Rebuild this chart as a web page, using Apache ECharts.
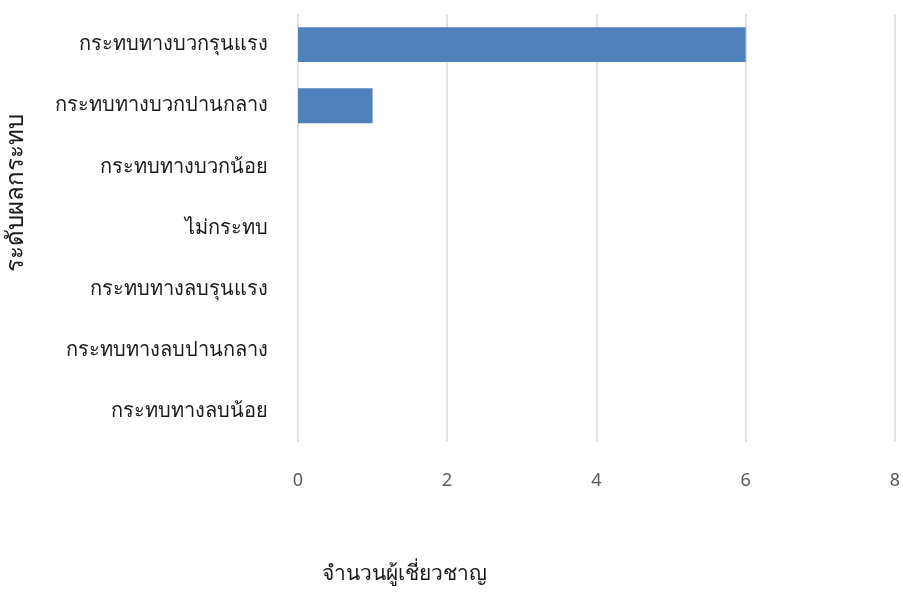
<!DOCTYPE html>
<html>
<head>
<meta charset="utf-8">
<script src="https://cdn.jsdelivr.net/npm/echarts@6/dist/echarts.min.js"></script>
<style>
  html, body { margin: 0; padding: 0; background: #fff; overflow: hidden; }
  #chart { width: 903px; height: 594px; }
</style>
</head>
<body>
<div id="chart"></div>
<script>
// Impact levels, listed top to bottom
const categories = [
  'กระทบทางบวกรุนแรง',
  'กระทบทางบวกปานกลาง',
  'กระทบทางบวกน้อย',
  'ไม่กระทบ',
  'กระทบทางลบรุนแรง',
  'กระทบทางลบปานกลาง',
  'กระทบทางลบน้อย'
];
// Number of experts per impact level
const expertCounts = [6, 1, 0, 0, 0, 0, 0];
const xTicks = { min: 0, max: 8, interval: 2 };
const xTitle = 'จำนวนผู้เชี่ยวชาญ';
const yTitle = 'ระดับผลกระทบ';

const font = '"Noto Sans", "Open Sans", sans-serif';
const chart = echarts.init(document.getElementById('chart'));
chart.setOption({
  animation: false,
  textStyle: { fontFamily: font },
  grid: { left: 298, right: 1, top: 14, bottom: 152, containLabel: false },
  xAxis: {
    type: 'value',
    min: xTicks.min, max: xTicks.max, interval: xTicks.interval,
    axisLine: { show: false },
    axisTick: { show: false },
    splitLine: { lineStyle: { color: '#d9d9d9', width: 1.5 } },
    axisLabel: { color: '#595959', fontSize: 18, margin: 30, fontFamily: font }
  },
  yAxis: {
    type: 'category',
    data: categories,
    inverse: true,
    axisLine: { show: false },
    axisTick: { show: false },
    axisLabel: { color: '#1a1a1a', fontSize: 20, margin: 30, fontFamily: font }
  },
  series: [{
    type: 'bar',
    data: expertCounts,
    barCategoryGap: '43%',
    itemStyle: { color: '#4f81bd' }
  }],
  graphic: [
    {
      type: 'text', left: 322, top: 564,
      style: { text: xTitle, fontSize: 21, fill: '#1a1a1a', fontFamily: font }
    },
    {
      type: 'text', x: 4, y: 272, rotation: Math.PI / 2,
      style: { text: yTitle, fontSize: 24, fill: '#1a1a1a', fontFamily: font }
    }
  ]
});
</script>
</body>
</html>
